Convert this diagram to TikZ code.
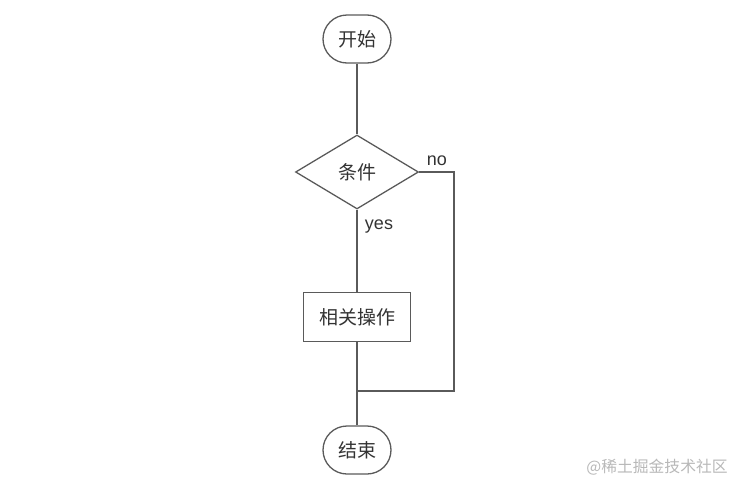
\documentclass[tikz,border=0pt]{standalone}
\usepackage{fontspec}
\setmainfont{Liberation Sans}
\newfontfamily\cjk{Noto Sans CJK SC}
\usetikzlibrary{shapes.geometric}
\definecolor{linec}{HTML}{5A5A5A}
\definecolor{textc}{HTML}{333333}
\definecolor{wmark}{HTML}{B8B8B8}
\tikzset{
  conn/.style={draw=linec, line width=1.3pt},
  termbox/.style={draw=linec, line width=1.3pt, rectangle, rounded corners=24pt, minimum width=68pt, minimum height=48pt, inner sep=0pt, text=textc, font=\cjk\fontsize{19}{21}\selectfont},
  decbox/.style={draw=linec, line width=1.3pt, diamond, aspect=1.66, minimum width=123pt, minimum height=74pt, inner sep=0pt, text=textc, font=\cjk\fontsize{19}{21}\selectfont},
  procbox/.style={draw=linec, line width=1.3pt, rectangle, minimum width=107pt, minimum height=49pt, inner sep=0pt, text=textc, font=\cjk\fontsize{19}{21}\selectfont},
  lbl/.style={text=textc, font=\fontsize{18}{20}\selectfont, inner sep=0pt, anchor=base}
}
\begin{document}
\begin{tikzpicture}[x=1pt,y=-1pt]
\useasboundingbox (0,0) rectangle (740,493);
\node[termbox] (start) at (357,39) {开始};
\node[decbox] (cond) at (357,172) {条件};
\node[procbox] (op) at (357,317) {相关操作};
\node[termbox] (stop) at (357,450) {结束};
\node[lbl] (no) at (437,165) {no};
\node[lbl] (yes) at (379,229) {yes};
\coordinate (corner) at (454,172);
\coordinate (merge) at (357,391);
\draw[conn] (start) -- (cond);
\draw[conn] (cond) -- (op);
\draw[conn] (op) -- (stop);
\draw[conn] (cond.east) -- (corner) |- (merge);
\node[text=wmark, font=\cjk\fontsize{15.8}{17}\selectfont, inner sep=0pt] (wm) at (657,467) {@稀土掘金技术社区};
\end{tikzpicture}
\end{document}
